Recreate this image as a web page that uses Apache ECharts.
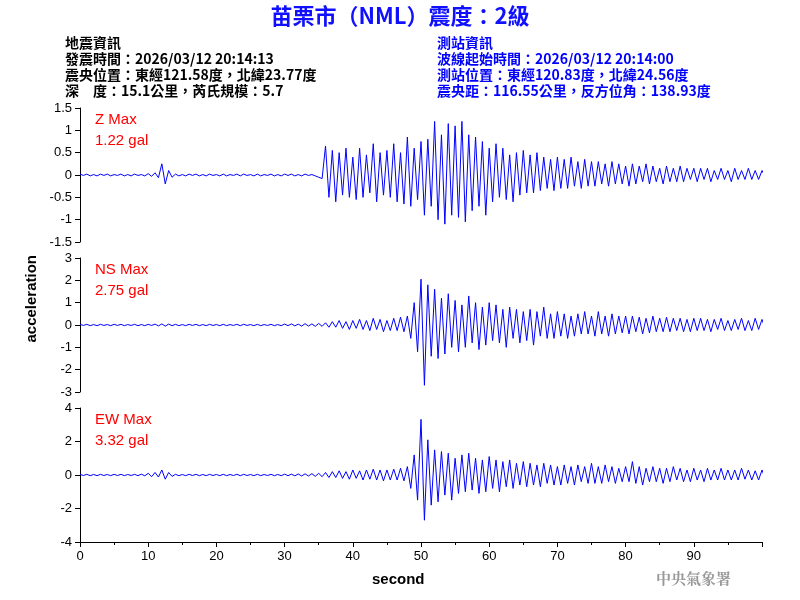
<!DOCTYPE html>
<html>
<head>
<meta charset="utf-8">
<script src="https://cdn.jsdelivr.net/npm/echarts@6/dist/echarts.min.js"></script>
<style>html,body{margin:0;background:#fff}#chart{width:800px;height:600px}</style>
</head>
<body>
<div id="chart"></div>
<script>
// samples every 0.5 s
var stepSec = 0.5;
var zValues = [0.02,-0.01,0.02,-0.02,0.01,-0.02,0.02,-0.01,0.02,-0.02,0.01,-0.01,0.02,-0.02,0.01,-0.02,0.02,-0.01,0.01,-0.02,0.03,-0.03,0.05,-0.06,
  0.25,-0.2,0.1,-0.05,
  0.02,-0.02,0.01,-0.02,0.02,-0.01,0.02,-0.02,0.01,-0.02,0.02,-0.01,0.01,-0.02,0.02,-0.02,0.01,-0.01,0.02,-0.02,0.02,-0.01,0.01,-0.02,0.02,-0.02,0.01,-0.01,0.02,-0.02,0.01,-0.02,0.02,-0.01,0.02,-0.02,0.01,-0.02,0.02,-0.01,0.01,-0.02,-0.05,-0.08,
  0.65,-0.5,0.55,-0.6,0.5,-0.45,0.6,-0.5,0.4,-0.55,
  0.6,-0.5,0.45,-0.4,0.7,-0.6,0.5,-0.45,0.55,-0.5,
  0.7,-0.6,0.5,-0.65,0.85,-0.7,0.6,-0.55,0.75,-0.9,
  0.8,-0.7,1.2,-1.0,0.9,-1.1,1.15,-0.9,1.1,-0.95,
  1.2,-1.05,0.9,-0.8,0.85,-0.7,0.75,-0.9,0.6,-0.6,
  0.7,-0.5,0.6,-0.55,0.45,-0.6,0.5,-0.45,0.55,-0.4,
  0.45,-0.4,0.5,-0.35,0.4,-0.3,0.35,-0.35,0.4,-0.3,
  0.35,-0.3,0.4,-0.25,0.3,-0.3,0.35,-0.25,0.3,-0.25,
  0.3,-0.2,0.25,-0.25,0.3,-0.2,0.25,-0.2,0.2,-0.25,
  0.25,-0.2,0.2,-0.15,0.25,-0.2,0.2,-0.15,0.15,-0.2,
  0.2,-0.15,0.15,-0.15,0.2,-0.15,0.15,-0.1,0.15,-0.15,
  0.15,-0.1,0.15,-0.15,0.1,-0.1,0.15,-0.1,0.1,-0.15,
  0.15,-0.1,0.1,-0.1,0.15,-0.1,0.1,-0.1,0.1,-0.05];
var nsValues = [0.03,-0.02,0.03,-0.03,0.02,-0.03,0.03,-0.02,0.02,-0.03,0.03,-0.02,0.03,-0.03,0.02,-0.02,0.03,-0.03,0.02,-0.03,0.03,-0.02,0.04,-0.04,
  0.05,-0.05,0.04,-0.03,
  0.03,-0.03,0.02,-0.03,0.03,-0.02,0.03,-0.03,0.02,-0.03,0.03,-0.02,0.02,-0.03,0.03,-0.03,0.02,-0.02,0.03,-0.03,0.03,-0.02,0.02,-0.03,0.03,-0.03,0.02,-0.02,0.03,-0.03,0.02,-0.03,0.04,-0.03,0.05,-0.04,0.04,-0.05,0.06,-0.05,0.05,-0.06,0.07,-0.06,
  0.1,-0.1,0.15,-0.1,0.2,-0.15,0.15,-0.2,0.2,-0.15,
  0.25,-0.2,0.2,-0.25,0.3,-0.2,0.25,-0.3,0.2,-0.25,
  0.3,-0.25,0.35,-0.3,0.4,-0.6,1.0,-1.2,2.05,-2.7,
  1.8,-1.4,1.6,-1.5,1.2,-1.3,1.4,-1.0,1.1,-1.2,
  0.9,-1.0,1.3,-0.8,1.0,-1.1,0.8,-0.9,1.0,-0.7,
  0.9,-0.8,0.7,-1.0,0.8,-0.6,0.7,-0.8,0.6,-0.7,
  0.7,-0.9,0.6,-0.5,0.8,-0.6,0.5,-0.6,0.6,-0.5,
  0.5,-0.6,0.4,-0.5,0.5,-0.4,0.6,-0.4,0.4,-0.5,
  0.6,-0.4,0.4,-0.5,0.5,-0.4,0.4,-0.35,0.4,-0.4,
  0.4,-0.3,0.35,-0.4,0.3,-0.35,0.4,-0.3,0.3,-0.3,
  0.35,-0.3,0.3,-0.25,0.3,-0.3,0.25,-0.3,0.3,-0.25,
  0.3,-0.25,0.25,-0.3,0.25,-0.2,0.3,-0.25,0.2,-0.25,
  0.25,-0.2,0.3,-0.25,0.2,-0.25,0.3,-0.2,0.25,-0.2];
var ewValues = [0.04,-0.03,0.04,-0.04,0.03,-0.04,0.04,-0.03,0.03,-0.04,0.04,-0.03,0.04,-0.04,0.03,-0.03,0.04,-0.04,0.05,-0.05,0.1,-0.1,0.15,-0.12,
  0.3,-0.25,0.15,-0.08,
  0.04,-0.04,0.03,-0.04,0.04,-0.03,0.04,-0.04,0.03,-0.04,0.04,-0.03,0.03,-0.04,0.04,-0.04,0.03,-0.03,0.04,-0.04,0.04,-0.03,0.03,-0.04,0.04,-0.04,0.03,-0.03,0.04,-0.04,0.03,-0.04,0.05,-0.04,0.05,-0.05,0.06,-0.06,0.07,-0.06,0.08,-0.08,0.1,-0.1,
  0.15,-0.15,0.2,-0.15,0.25,-0.2,0.2,-0.25,0.3,-0.2,
  0.25,-0.3,0.3,-0.25,0.35,-0.3,0.3,-0.35,0.3,-0.3,
  0.35,-0.3,0.4,-0.35,0.5,-0.8,1.2,-1.5,3.32,-2.7,
  2.1,-1.8,1.5,-1.6,1.4,-1.2,1.3,-1.5,1.0,-1.1,
  1.2,-1.0,1.3,-0.9,1.0,-1.1,0.9,-1.0,1.1,-0.8,
  0.9,-1.0,0.8,-0.7,0.9,-0.8,0.7,-0.6,0.8,-0.7,
  0.7,-0.6,0.6,-0.7,0.7,-0.5,0.6,-0.6,0.5,-0.6,
  0.6,-0.5,0.5,-0.6,0.6,-0.4,0.5,-0.5,0.7,-0.5,
  0.5,-0.5,0.6,-0.4,0.5,-0.5,0.4,-0.4,0.5,-0.4,
  0.8,-0.5,0.5,-0.6,0.4,-0.4,0.5,-0.4,0.4,-0.5,
  0.4,-0.4,0.5,-0.3,0.4,-0.4,0.3,-0.4,0.4,-0.3,
  0.3,-0.4,0.4,-0.3,0.3,-0.3,0.4,-0.3,0.3,-0.3,
  0.3,-0.3,0.4,-0.25,0.3,-0.3,0.25,-0.3,0.3,-0.25];
var panelNames = ['Z Max', 'NS Max', 'EW Max'];
var panelPeaks = ['1.22 gal', '2.75 gal', '3.32 gal'];
var yRanges = [[-1.5, 1.5, 0.5], [-3, 3, 1], [-4, 4, 2]];
var xTicks = [0, 10, 20, 30, 40, 50, 60, 70, 80, 90];

var infoLeft = ['地震資訊', '發震時間：2026/03/12 20:14:13', '震央位置：東經121.58度，北緯23.77度', '深　度：15.1公里，芮氏規模：5.7'];
var infoRight = ['測站資訊', '波線起始時間：2026/03/12 20:14:00', '測站位置：東經120.83度，北緯24.56度', '震央距：116.55公里，反方位角：138.93度'];

var traces = [zValues, nsValues, ewValues];
var gridTops = [108, 258, 408];
var font = 'Arial, "Liberation Sans", sans-serif';

var grids = [], xAxes = [], yAxes = [], series = [], graphics = [];
traces.forEach(function (vals, k) {
    grids.push({ left: 80, right: 38, top: gridTops[k], height: 134 });
    xAxes.push({
        type: 'value', gridIndex: k, min: 0, max: 100, interval: 10,
        show: k === 2,
        axisLine: { onZero: false, lineStyle: { color: '#000' } },
        axisTick: { lineStyle: { color: '#000' } },
        minorTick: { show: true, splitNumber: 2, lineStyle: { color: '#000' } },
        axisLabel: { color: '#000', fontSize: 13, fontFamily: font,
            formatter: function (v) { return xTicks.indexOf(v) >= 0 ? String(v) : ''; } },
        splitLine: { show: false }
    });
    yAxes.push({
        type: 'value', gridIndex: k, min: yRanges[k][0], max: yRanges[k][1], interval: yRanges[k][2],
        axisLine: { show: true, lineStyle: { color: '#000' } },
        axisTick: { show: true, lineStyle: { color: '#000' } },
        axisLabel: { color: '#000', fontSize: 13, fontFamily: font },
        splitLine: { show: false }
    });
    series.push({
        type: 'line', xAxisIndex: k, yAxisIndex: k, symbol: 'none', animation: false,
        lineStyle: { color: '#0000ff', width: 1 },
        data: vals.map(function (v, i) { return [i * stepSec, v]; })
    });
    graphics.push({ type: 'text', left: 95, top: gridTops[k] + 1,
        style: { text: panelNames[k] + '\n' + panelPeaks[k], fill: '#ff0000', font: '15px ' + font, lineHeight: 21 } });
});

graphics.push({ type: 'text', left: 'center', top: 5,
    style: { text: '苗栗市（NML）震度：2級', fill: '#1010ff', font: 'bold 22px "Noto Sans CJK TC", Arial' } });
graphics.push({ type: 'text', left: 65, top: 35,
    style: { text: infoLeft.join('\n'), fill: '#000', font: 'bold 14px "Noto Sans CJK TC", Arial', lineHeight: 16 } });
graphics.push({ type: 'text', left: 437, top: 35,
    style: { text: infoRight.join('\n'), fill: '#0000ff', font: 'bold 14px "Noto Sans CJK TC", Arial', lineHeight: 16 } });
graphics.push({ type: 'text', left: 24, top: 255, rotation: Math.PI / 2,
    style: { text: 'acceleration', fill: '#000', font: 'bold 15px ' + font } });
graphics.push({ type: 'text', left: 372, top: 572,
    style: { text: 'second', fill: '#000', font: 'bold 15px ' + font } });
graphics.push({ type: 'text', left: 656, top: 571,
    style: { text: '中央氣象署', fill: '#999', font: 'bold 15px "Noto Serif CJK TC", "Noto Sans CJK TC"' } });

var myChart = echarts.init(document.getElementById('chart'));
myChart.setOption({
    animation: false,
    backgroundColor: '#fff',
    grid: grids, xAxis: xAxes, yAxis: yAxes, series: series, graphic: graphics
});
</script>
</body>
</html>
